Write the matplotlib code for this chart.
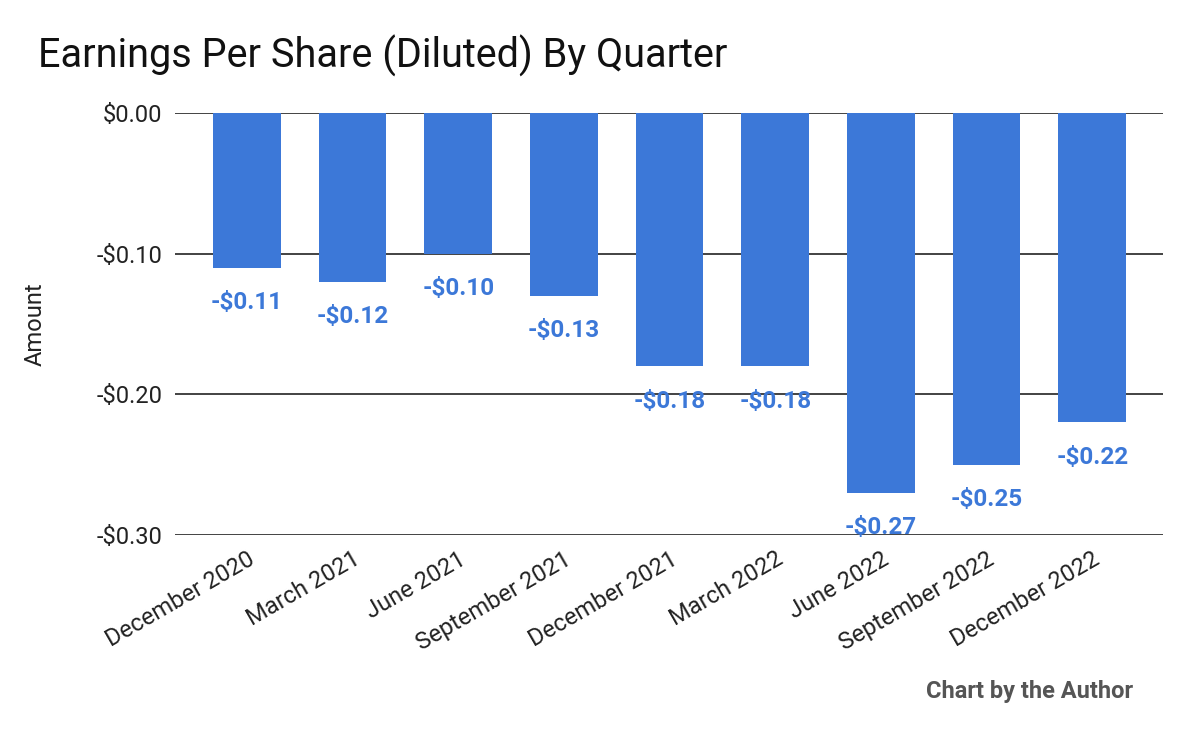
import numpy as np
import matplotlib
matplotlib.use("Agg")
import matplotlib.pyplot as plt

plt.rcParams["font.family"] = "Roboto"

quarters = ["December 2020", "March 2021", "June 2021", "September 2021", "December 2021",
            "March 2022", "June 2022", "September 2022", "December 2022"]
eps = [-0.11, -0.12, -0.10, -0.13, -0.18, -0.18, -0.27, -0.25, -0.22]
yticks = [0.0, -0.10, -0.20, -0.30]
ytick_labels = ["$0.00", "-$0.10", "-$0.20", "-$0.30"]

BLUE = "#3c78d8"

fig = plt.figure(figsize=(11.99, 7.42), dpi=100)
ax = fig.add_axes([0.146, 0.279, 0.824, 0.569])
x = np.arange(len(quarters))
ax.bar(x, eps, width=0.64, color=BLUE, zorder=2)
for xi, v in zip(x, eps):
    ax.annotate(f"-${abs(v):.2f}", (xi, v), textcoords="offset points", xytext=(0, -17),
                ha="center", va="top", fontsize=17.5, fontweight="bold", color=BLUE, zorder=3)

ax.set_ylim(-0.30, 0.0)
ax.set_xlim(-0.68, 8.67)
ax.set_yticks(yticks)
ax.set_yticklabels(ytick_labels, fontsize=17, color="#222222")
ax.set_xticks(x)
ax.set_xticklabels(quarters, rotation=30, ha="right", rotation_mode="anchor",
                   fontsize=17, color="#222222")
ax.tick_params(length=0, pad=9)
ax.yaxis.grid(True, color="#222222", lw=1.2, zorder=1)
for s in ax.spines.values():
    s.set_visible(False)
ax.set_ylabel("Amount", fontsize=17, color="#222222", labelpad=36)

fig.text(0.032, 0.925, "Earnings Per Share (Diluted) By Quarter", fontsize=28.5, color="#111111",
         va="center")
fig.text(0.945, 0.068, "Chart by the Author", fontsize=17, fontweight="bold",
         color="#555555", ha="right", va="center")

fig.savefig("out.png", dpi=100)
